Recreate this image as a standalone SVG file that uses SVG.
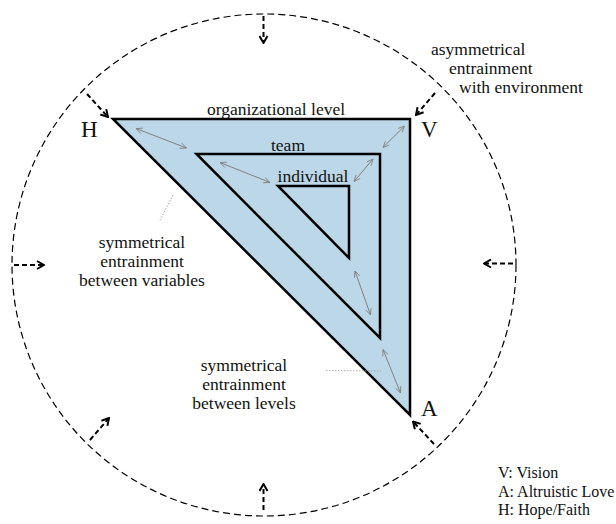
<svg xmlns="http://www.w3.org/2000/svg" width="616" height="524" viewBox="0 0 616 524">
<defs>
<marker id="env" viewBox="0 0 10 10" refX="9" refY="5" markerWidth="10" markerHeight="10" orient="auto" markerUnits="userSpaceOnUse">
<path d="M2,1 L9,5 L2,9" fill="none" stroke="#000" stroke-width="2"/>
</marker>
<marker id="ga" viewBox="0 0 10 10" refX="10" refY="5" markerWidth="7" markerHeight="7" orient="auto-start-reverse" markerUnits="userSpaceOnUse">
<path d="M1,1 L10,5 L1,9" fill="none" stroke="#808080" stroke-width="1.2"/>
</marker>
</defs>
<style>
text{font-family:'Liberation Serif','DejaVu Serif',serif;fill:#111}
.lbl{font-size:17.5px}
.big{font-size:23px}
.leg{font-size:16px}
.tri{fill:#bcd8e8;stroke:#000;stroke-width:2.5;stroke-linejoin:miter}
.inner{fill:none;stroke:#000;stroke-width:2.5}
.env{stroke:#000;stroke-width:2;stroke-dasharray:5,3;fill:none;marker-end:url(#env)}
.sym{stroke:#808080;stroke-width:1;fill:none;marker-start:url(#ga);marker-end:url(#ga)}
.ptr{stroke:#999;stroke-width:0.8;stroke-dasharray:1.5,1.5;fill:none}
</style>
<rect width="616" height="524" fill="#fff"/>
<g font-family="Liberation Serif, serif">
<g id="environment">
<ellipse cx="264" cy="265" rx="252" ry="251" fill="none" stroke="#000" stroke-width="1.2" stroke-dasharray="7,4"/>
</g>
<g id="organizational">
<polygon class="tri" points="113,119 410,119 410,415"/>
<text class="lbl" x="276" y="115" text-anchor="middle">organizational level</text>
</g>
<g id="team">
<polygon class="inner" points="196.5,154 380,154 380,338"/>
<text class="lbl" x="288" y="151" text-anchor="middle">team</text>
</g>
<g id="individual">
<polygon class="inner" points="278,186 349,186 349,258"/>
<text class="lbl" x="313" y="182" text-anchor="middle">individual</text>
</g>
<g id="H"><text class="big" x="81" y="137">H</text></g>
<g id="V"><text class="big" x="421" y="137">V</text></g>
<g id="A"><text class="big" x="421" y="416">A</text></g>
<g id="label-asym">
<text class="lbl" x="431" y="55">asymmetrical</text>
<text class="lbl" x="449" y="74">entrainment</text>
<text class="lbl" x="459" y="93">with environment</text>
</g>
<g id="label-symvar">
<text class="lbl" x="142" y="248" text-anchor="middle">symmetrical</text>
<text class="lbl" x="142" y="267" text-anchor="middle">entrainment</text>
<text class="lbl" x="142" y="286" text-anchor="middle">between variables</text>
</g>
<g id="label-symlev">
<text class="lbl" x="244" y="371" text-anchor="middle">symmetrical</text>
<text class="lbl" x="244" y="390" text-anchor="middle">entrainment</text>
<text class="lbl" x="244" y="409" text-anchor="middle">between levels</text>
</g>
<g id="legend">
<text class="leg" x="498" y="478">V: Vision</text>
<text class="leg" x="498" y="497">A: Altruistic Love</text>
<text class="leg" x="498" y="515">H: Hope/Faith</text>
</g>
<g id="connectors">
<line class="env" x1="263.5" y1="16" x2="263.5" y2="43"/>
<line class="env" x1="87" y1="94" x2="108" y2="117"/>
<line class="env" x1="435" y1="93" x2="416" y2="115"/>
<line class="env" x1="14" y1="265" x2="44" y2="265"/>
<line class="env" x1="513" y1="263.5" x2="484" y2="263.5"/>
<line class="env" x1="90" y1="440" x2="109" y2="418"/>
<line class="env" x1="434" y1="444" x2="413" y2="421.5"/>
<line class="env" x1="263.5" y1="510" x2="263.5" y2="484"/>
<line class="sym" x1="136" y1="128.5" x2="186.5" y2="148"/>
<line class="sym" x1="220" y1="162.5" x2="270" y2="182.5"/>
<line class="sym" x1="404.5" y1="126" x2="383" y2="147.5"/>
<line class="sym" x1="373" y1="159" x2="354" y2="181.5"/>
<line class="sym" x1="355" y1="271" x2="370.5" y2="315"/>
<line class="sym" x1="383" y1="349.5" x2="400.5" y2="393"/>
<line class="ptr" x1="173" y1="195" x2="160" y2="220"/>
<line class="ptr" x1="326" y1="370.5" x2="381" y2="371"/>
</g>
</g>
</svg>
